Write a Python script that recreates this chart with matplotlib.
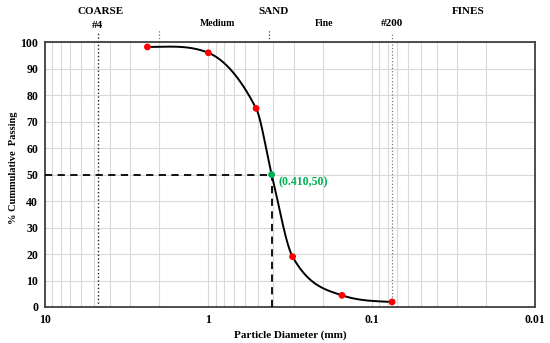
import numpy as np
import matplotlib
matplotlib.use("Agg")
import matplotlib.pyplot as plt
from matplotlib.ticker import FixedLocator, LogLocator, NullFormatter

# Data
diam = [2.36, 1.0, 0.51, 0.41, 0.305, 0.152, 0.075]
passing = [98.2, 96.0, 75.0, 50.2, 19.0, 4.4, 1.9]
# slope of the drawn curve at each point, % per decade
curve_slope = [0.0, -25.0, -120.0, -250.0, -111.0, -21.0, -3.0]
sieve_diam = [2.36, 1.0, 0.51, 0.305, 0.152, 0.075]
sieve_pass = [98.2, 96.0, 75.0, 19.0, 4.4, 1.9]
d50 = 0.410
d50_pass = 50
boundaries = [4.75, 2.0, 0.425, 0.075]
x_ticks = [10, 1, 0.1, 0.01]
x_ticklabels = ["10", "1", "0.1", "0.01"]
y_ticks = list(range(0, 101, 10))


def hermite(x, y, m, n=80):
    x = np.asarray(x, float); y = np.asarray(y, float); m = np.asarray(m, float)
    h = np.diff(x)
    xs, ys = [], []
    for k in range(len(x) - 1):
        t = np.linspace(0, 1, n)
        h00 = 2*t**3 - 3*t**2 + 1; h10 = t**3 - 2*t**2 + t
        h01 = -2*t**3 + 3*t**2; h11 = t**3 - t**2
        xs.append(x[k] + t * h[k])
        ys.append(h00*y[k] + h10*h[k]*m[k] + h01*y[k+1] + h11*h[k]*m[k+1])
    return np.concatenate(xs), np.concatenate(ys)


plt.rcParams['font.family'] = ['Liberation Serif', 'DejaVu Serif']
plt.rcParams['font.weight'] = 'bold'

fig = plt.figure(figsize=(5.5, 3.43), dpi=100)
ax = fig.add_axes([0.0818, 0.105, 0.891, 0.772])
ax.set_xscale('log')
ax.set_xlim(10, 0.01)
ax.set_ylim(0, 100)

ax.xaxis.set_major_locator(FixedLocator(x_ticks))
ax.xaxis.set_minor_locator(LogLocator(base=10, subs=np.arange(2, 10)))
ax.xaxis.set_minor_formatter(NullFormatter())
ax.set_xticks(x_ticks)
ax.set_xticklabels(x_ticklabels)
ax.set_yticks(y_ticks)
ax.grid(True, which='both', color='#d9d9d9', linewidth=0.8)
ax.set_axisbelow(True)
ax.tick_params(which='both', length=0, labelsize=8.5, pad=5)
for lab in ax.get_xticklabels() + ax.get_yticklabels():
    lab.set_fontweight('bold')
for sp in ax.spines.values():
    sp.set_color('#404040'); sp.set_linewidth(1.3)

# smooth curve: cubic Hermite in -log10(diameter)
cx, cy = hermite(-np.log10(diam), passing, curve_slope)
ax.plot(10**(-cx), cy, color='black', lw=1.4, zorder=3)

ax.scatter(sieve_diam, sieve_pass, s=24, color='#ff0000', zorder=4, edgecolor='none')
ax.scatter([d50], [d50_pass], s=24, color='#00b050', zorder=5, edgecolor='none')

ax.plot([10, d50], [d50_pass, d50_pass], color='black', ls=(0, (4, 3)), lw=1.3, zorder=3)
ax.plot([d50, d50], [0, d50_pass], color='black', ls=(0, (4, 3)), lw=1.3, zorder=3)
ax.annotate(f"({d50:.3f},{d50_pass})", (d50, d50_pass), xytext=(5, -8),
            textcoords='offset points', color='#00b050', fontsize=8.5, fontweight='bold')

tr = ax.get_xaxis_transform()
ax.plot([boundaries[0]] * 2, [0, 1.04], transform=tr, color='#222222', ls=':', lw=1.0, clip_on=False)
ax.plot([boundaries[1]] * 2, [1.0, 1.05], transform=tr, color='#777777', ls=':', lw=0.9, clip_on=False)
ax.plot([boundaries[2]] * 2, [1.0, 1.05], transform=tr, color='#333333', ls=':', lw=0.9, clip_on=False)
ax.plot([boundaries[3]] * 2, [0, 1.035], transform=tr, color='#777777', ls=':', lw=0.9, clip_on=False)


def ftext(x, y, s, size=8.0, rot=0):
    fig.text(x / 550, 1 - y / 343, s, ha='center', va='center', fontsize=size,
             fontweight='bold', rotation=rot)

ftext(101, 12, "COARSE")
ftext(97, 26, "#4")
ftext(217, 24, "Medium", 7.0)
ftext(274, 12, "SAND")
ftext(324, 24, "Fine", 7.0)
ftext(392, 24, "#200")
ftext(468, 12, "FINES")

ax.set_xlabel("Particle Diameter (mm)", fontsize=8, fontweight='bold', labelpad=3)
ftext(14, 168, "% Cummulative  Passing", 7.5, 90)

fig.savefig("out.png", dpi=100)
